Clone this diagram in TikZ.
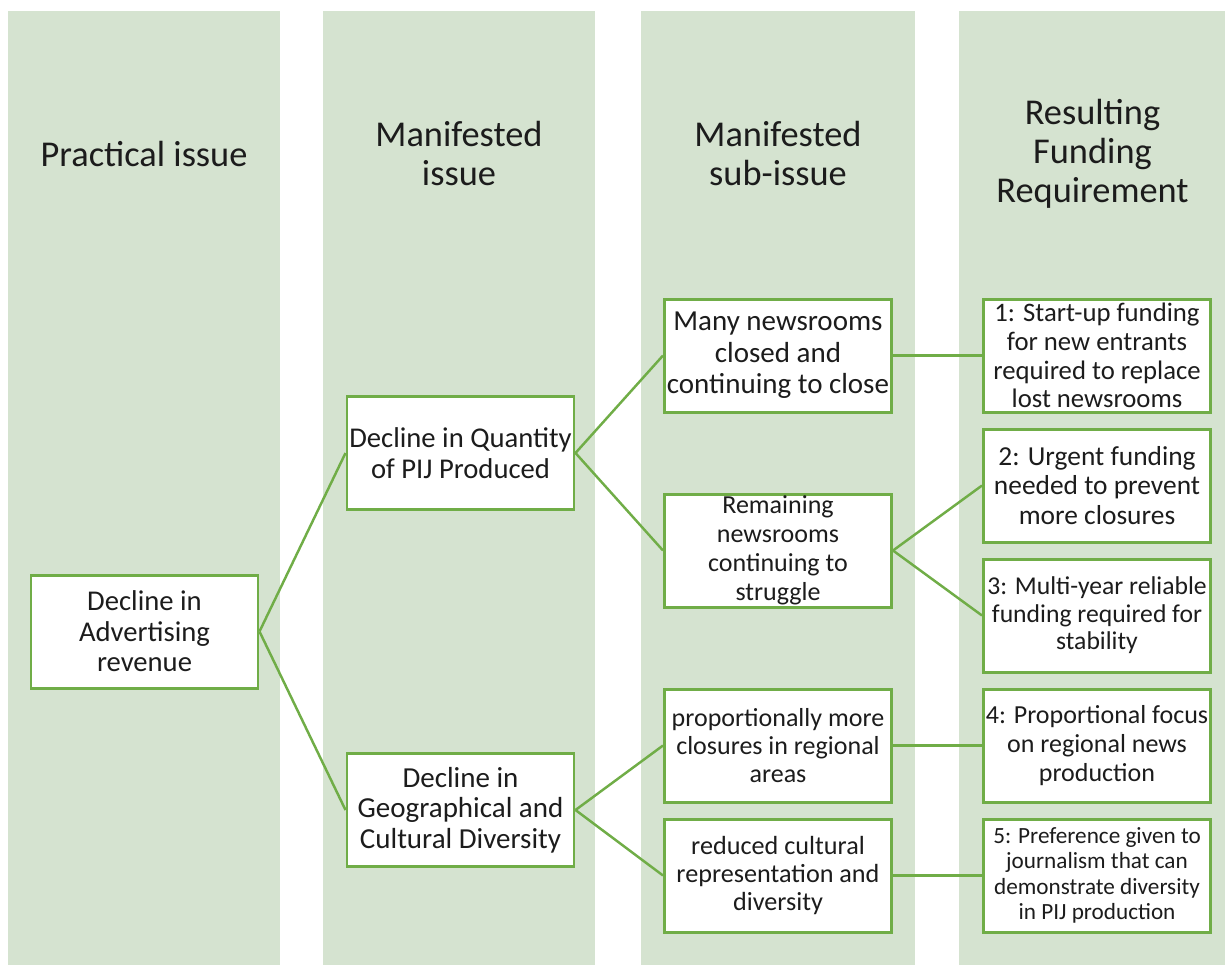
\documentclass[tikz,border=0pt]{standalone}
\usepackage{fontspec}
\setmainfont{Carlito}
\definecolor{panelgreen}{RGB}{213,227,208}
\definecolor{boxgreen}{RGB}{112,173,71}
\definecolor{inkgray}{RGB}{28,28,28}
\begin{document}
\begin{tikzpicture}[
    every node/.style={align=center, text=inkgray},
    column/.style={fill=panelgreen, draw=none},
    heading/.style={font=\fontsize{20.7}{22.2}\selectfont},
    issue box/.style 2 args={draw=boxgreen, line width=1.7pt, fill=white,
        minimum width=4.54cm, minimum height=2.26cm, inner sep=1pt,
        font=\fontsize{#1}{#2}\selectfont},
    link/.style={draw=boxgreen, line width=1.4pt},
    ]
\useasboundingbox (0,0) rectangle (24.5,-19.3);
% background columns
\fill[column] (0.16,-0.22) rectangle (5.6,-19.3);
\fill[column] (6.46,-0.22) rectangle (11.9,-19.3);
\fill[column] (12.82,-0.22) rectangle (18.3,-19.3);
\fill[column] (19.18,-0.22) rectangle (24.5,-19.3);
% headings
\node[heading] (H1) at (2.88,-3.07) {Practical issue};
\node[heading] (H2) at (9.18,-3.07) {Manifested\\issue};
\node[heading] (H3) at (15.56,-3.07) {Manifested\\sub-issue};
\node[heading] (H4) at (21.85,-3.07) {Resulting\\Funding\\Requirement};
% issues
\node[issue box={16.3}{17.4}] (ADV) at (2.89,-12.63) {Decline in\\Advertising\\revenue};
\node[issue box={16.3}{17.4}] (QTY) at (9.21,-9.06) {Decline in Quantity\\of PIJ Produced};
\node[issue box={16.5}{17.4}] (GEO) at (9.21,-16.20) {Decline in\\Geographical and\\Cultural Diversity};
% sub-issues
\node[issue box={16.5}{17.9}] (MANY) at (15.56,-7.11) {Many newsrooms\\closed and\\continuing to close};
\node[issue box={14.8}{16.4}] (REMAIN) at (15.56,-11.01) {Remaining\\newsrooms\\continuing to\\struggle};
\node[issue box={14.8}{16}] (PROP) at (15.56,-14.91) {proportionally more\\closures in regional\\areas};
\node[issue box={14.9}{16}] (CULT) at (15.56,-17.51) {reduced cultural\\representation and\\diversity};
% requirements
\node[issue box={15.2}{16.3}] (R1) at (21.94,-7.11) {1: Start-up funding\\for new entrants\\required to replace\\lost newsrooms};
\node[issue box={15.6}{17}] (R2) at (21.94,-9.71) {2: Urgent funding\\needed to prevent\\more closures};
\node[issue box={14.6}{15.6}] (R3) at (21.94,-12.31) {3: Multi-year reliable\\funding required for\\stability};
\node[issue box={14.8}{16.4}] (R4) at (21.94,-14.91) {4: Proportional focus\\on regional news\\production};
\node[issue box={13.2}{14.5}] (R5) at (21.94,-17.51) {5: Preference given to\\journalism that can\\demonstrate diversity\\in PIJ production};
% links
\draw[link] (ADV.east) -- (QTY.west);
\draw[link] (ADV.east) -- (GEO.west);
\draw[link] (QTY.east) -- (MANY.west);
\draw[link] (QTY.east) -- (REMAIN.west);
\draw[link] (GEO.east) -- (PROP.west);
\draw[link] (GEO.east) -- (CULT.west);
\draw[link] (MANY.east) -- (R1.west);
\draw[link] (REMAIN.east) -- (R2.west);
\draw[link] (REMAIN.east) -- (R3.west);
\draw[link] (PROP.east) -- (R4.west);
\draw[link] (CULT.east) -- (R5.west);
\end{tikzpicture}
\end{document}
